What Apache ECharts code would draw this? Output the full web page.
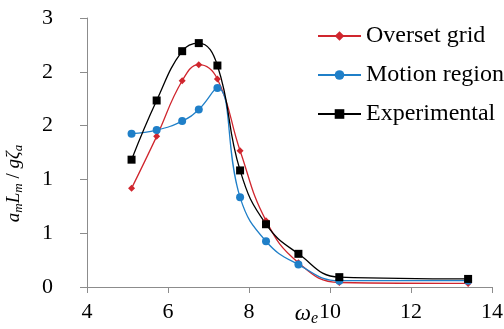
<!DOCTYPE html>
<html lang="en">
<head>
  <meta charset="UTF-8">
  <title>Heave acceleration</title>
  <script src="https://cdn.jsdelivr.net/npm/echarts@6/dist/echarts.min.js"></script>
  <style>
    html, body { margin: 0; padding: 0; background: #fff; }
    #chart { width: 504px; height: 329px; }
  </style>
</head>
<body>
  <div id="chart"></div>
  <script>
    // encounter frequency (x) for each measured point
    const omega = [5.10, 5.72, 6.35, 6.76, 7.22, 7.78, 8.42, 9.22, 10.23, 13.41]
    // series values
    const oversetGrid = [1.10, 1.68, 2.30, 2.48, 2.32, 1.52, 0.74, 0.27, 0.05, 0.04]
    const motionRegion = [1.71, 1.75, 1.85, 1.98, 2.22, 1.00, 0.51, 0.25, 0.07, 0.07]
    const experimental = [1.42, 2.08, 2.63, 2.72, 2.47, 1.30, 0.70, 0.37, 0.11, 0.09]
    // y ticks sit every 0.6 but the labels are shown rounded
    const yTickLabels = ['0', '1', '1', '2', '2', '3']

    const pairs = function (ys) {
      return ys.map(function (y, i) { return [omega[i], y] })
    }

    const font = 'Liberation Serif'
    const axisColor = '#8c8c8c'

    const makeSeries = function (name, data, color, symbol, size) {
      return {
        name: name,
        type: 'line',
        smooth: 0.45,
        symbol: symbol,
        symbolSize: size,
        data: pairs(data),
        lineStyle: { color: color, width: 1.3 },
        itemStyle: { color: color },
        emphasis: { disabled: true }
      }
    }

    const chart = echarts.init(document.getElementById('chart'))
    chart.setOption({
      animation: false,
      textStyle: { fontFamily: font },
      grid: { left: 87, right: 12, top: 18, bottom: 42, outerBoundsMode: 'none' },
      legend: {
        orient: 'vertical',
        left: 317,
        top: 24,
        padding: 0,
        itemWidth: 43,
        itemHeight: 12,
        itemGap: 15,
        textStyle: { fontFamily: font, fontSize: 24, color: '#000', lineHeight: 24 },
        data: ['Overset grid', 'Motion region', 'Experimental']
      },
      xAxis: {
        type: 'value',
        min: 4,
        max: 14,
        interval: 2,
        splitLine: { show: false },
        axisLine: { lineStyle: { color: axisColor, width: 1 } },
        axisTick: { show: true, length: 6, lineStyle: { color: axisColor } },
        axisLabel: { color: '#000', fontSize: 22, fontFamily: font, margin: 14 },
        name: '{w|ω}{s|e}',
        nameLocation: 'middle',
        nameGap: 14,
        nameMoveOverlap: false,
        nameTextStyle: {
          padding: [0, 0, 0, 34],
          rich: {
            w: { fontFamily: font, fontStyle: 'italic', fontSize: 23, color: '#000' },
            s: { fontFamily: font, fontStyle: 'italic', fontSize: 16, color: '#000', padding: [10, 0, 0, 0] }
          }
        }
      },
      yAxis: {
        type: 'value',
        min: 0,
        max: 3,
        interval: 0.6,
        splitLine: { show: false },
        axisLine: { show: true, lineStyle: { color: axisColor, width: 1 } },
        axisTick: { show: true, length: 7, lineStyle: { color: axisColor } },
        axisLabel: {
          color: '#000', fontSize: 22, fontFamily: font, margin: 34,
          formatter: function (v) { return yTickLabels[Math.round(v / 0.6)] }
        },
        name: '{i|a}{s|m}{i|L}{s|m}{n| / }{i|g}{i|ζ}{s|a}',
        nameLocation: 'middle',
        nameGap: 62,
        nameMoveOverlap: false,
        nameTextStyle: {
          padding: [0, 62, 0, 0],
          rich: {
            i: { fontFamily: font, fontStyle: 'italic', fontSize: 19, color: '#000' },
            n: { fontFamily: font, fontSize: 19, color: '#000' },
            s: { fontFamily: font, fontStyle: 'italic', fontSize: 13, color: '#000', padding: [9, 0, 0, 0] }
          }
        }
      },
      series: [
        makeSeries('Overset grid', oversetGrid, '#d0262e', 'diamond', 7),
        makeSeries('Motion region', motionRegion, '#1f7fc8', 'circle', 8),
        makeSeries('Experimental', experimental, '#000000', 'rect', 8)
      ]
    })
  </script>
</body>
</html>
